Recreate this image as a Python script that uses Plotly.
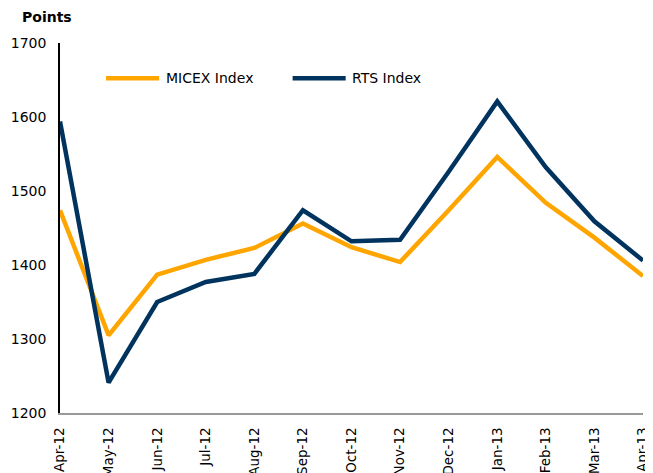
import plotly.graph_objects as go

months = ["Apr-12", "May-12", "Jun-12", "Jul-12", "Aug-12", "Sep-12", "Oct-12",
          "Nov-12", "Dec-12", "Jan-13", "Feb-13", "Mar-13", "Apr-13"]
micex = [1474, 1305, 1387, 1407, 1423, 1456, 1424, 1404, 1474, 1546, 1484, 1437, 1385]
rts = [1594, 1241, 1350, 1377, 1388, 1474, 1432, 1434, 1526, 1621, 1532, 1459, 1406]
y_ticks = [1200, 1300, 1400, 1500, 1600, 1700]

ORANGE = "#FFA500"
NAVY = "#00335E"
FONT = "DejaVu Sans"

x = list(range(len(months)))
fig = go.Figure()
fig.add_trace(go.Scatter(x=x, y=micex, mode="lines", name="MICEX Index",
                         line=dict(color=ORANGE, width=4.5), showlegend=False))
fig.add_trace(go.Scatter(x=x, y=rts, mode="lines", name="RTS Index",
                         line=dict(color=NAVY, width=4.5), showlegend=False))

# custom legend
legend_items = [("MICEX Index", ORANGE, 0.079, 0.170), ("RTS Index", NAVY, 0.399, 0.490)]
for name, col, x0, x1 in legend_items:
    fig.add_shape(type="line", xref="paper", yref="paper", x0=x0, x1=x1, y0=0.905, y1=0.905,
                  line=dict(color=col, width=4.5))
    fig.add_annotation(text=name, xref="paper", yref="paper", x=x1 + 0.008, y=0.905,
                       xanchor="left", yanchor="middle", showarrow=False,
                       font=dict(family=FONT, size=14, color="#000"))

fig.add_annotation(text="<b>Points</b>", xref="paper", yref="paper", x=-0.069, y=1.042,
                   xanchor="left", yanchor="bottom", showarrow=False,
                   font=dict(family=FONT, size=14, color="#000"))

# page body has an 8px default margin, so the figure is shifted by 8px
fig.update_layout(
    width=645, height=465,
    margin=dict(l=52, r=10, t=35, b=60, autoexpand=False),
    plot_bgcolor="white", paper_bgcolor="white",
    font=dict(family=FONT, size=14, color="#000"),
)
fig.update_xaxes(range=[0, 12], tickmode="array", tickvals=x, ticktext=months,
                 tickangle=-90, showgrid=False, zeroline=False, automargin=False,
                 showline=True, linecolor="#999999", linewidth=2, ticks="",
                 ticklabelstandoff=7,
                 tickfont=dict(family=FONT, size=13.5))
fig.update_yaxes(range=[1200, 1700], tickmode="array", tickvals=y_ticks, automargin=False,
                 showgrid=False, zeroline=False, showline=True, linecolor="#000",
                 linewidth=1.5, ticks="", ticklabelstandoff=9,
                 tickfont=dict(family=FONT, size=14))

fig.write_html("out.html")
